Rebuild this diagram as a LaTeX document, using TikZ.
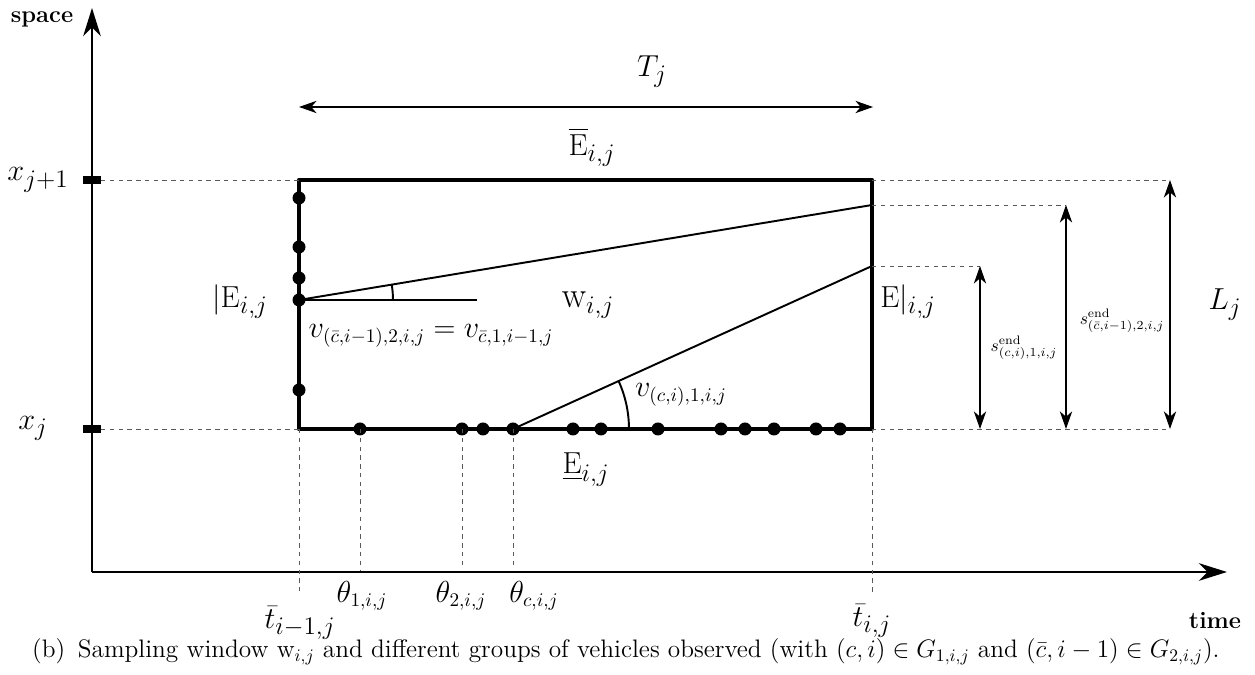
\documentclass[tikz,border=0pt]{standalone}
\usepackage{tikz}
\usetikzlibrary{arrows.meta}
\usepackage{amsmath, amsfonts}

\begin{document}
\begin{tikzpicture}[x=0.02cm, y=0.02cm,
    axis/.style = {line width=1.3pt, -{Stealth[length=16pt,width=10pt,inset=5pt]}},
    edgeline/.style = {line width=2.6pt, line join=round},
    traj/.style = {line width=1.1pt},
    guide/.style = {gray!70!black, line width=0.5pt, dash pattern=on 2.5pt off 2.5pt},
    dim/.style = {line width=0.7pt, {Stealth[length=10pt,width=7pt,inset=3pt]}-{Stealth[length=10pt,width=7pt,inset=3pt]}},
    veh/.style = {circle, fill, inner sep=0pt, minimum size=7.4pt},
    big/.style = {font=\fontsize{19}{22}\selectfont},
    mid/.style = {font=\fontsize{16}{19}\selectfont},
    word/.style = {font=\fontsize{13.5}{16}\selectfont\bfseries}]
    \useasboundingbox (0,0) rectangle (1255,675);

    % axes
    \coordinate (O) at (92,103);
    \coordinate (ytop) at (92,667);
    \coordinate (xend) at (1227,103);
    \draw[axis] (O) -- (ytop);
    \draw[axis] (O) -- (xend);
    \node[word] (space) at (42,656) {space};
    \node[word] (time) at (1215,54) {time};

    % window
    \coordinate (tl) at (299,495);
    \coordinate (tr) at (872,495);
    \coordinate (br) at (872,246);
    \coordinate (bl) at (299,246);
    \draw[edgeline] (tl) -- (tr) -- (br) -- (bl) -- cycle;

    % space marks
    \coordinate (xj1) at (92,495);
    \coordinate (xj) at (92,246);
    \draw[line width=4pt] ([xshift=-0.18cm]xj1) -- ([xshift=0.18cm]xj1);
    \draw[line width=4pt] ([xshift=-0.18cm]xj) -- ([xshift=0.18cm]xj);
    \draw[guide] ([xshift=0.18cm]xj1) -- (tl);
    \draw[guide] ([xshift=0.18cm]xj) -- (bl);
    \node[big] (lxj1) at (38,495) {$x_{j+1}$};
    \node[big] (lxj) at (33,247) {$x_j$};

    % vehicles entering
    \foreach \y in {477,428,397,375,285}
        \node[veh] (l\y) at (299,\y) {};
    \foreach \x in {360,462,483,513,573,601,658,721,745,774,816,840}
        \node[veh] (b\x) at (\x,246) {};

    % trajectories
    \coordinate (eA) at (872,470);
    \coordinate (eB) at (872,409);
    \coordinate (hA) at (477,375);
    \draw[traj] (l375.center) -- (eA);
    \draw[traj] (l375.center) -- (hA);
    \draw[traj] ([shift={(1.88cm,0)}]l375.center) arc (0:9.4:1.88cm);
    \draw[traj] (b513.center) -- (eB);
    \draw[traj] ([shift={(2.32cm,0)}]b513.center) arc (0:24.6:2.32cm);
    \node[mid] (vA) at (431,339) {$v_{(\bar{c},i-1),2,i,j} = v_{\bar{c},1,i-1,j}$};
    \node[mid] (vB) at (681,280) {$v_{(c,i),1,i,j}$};

    % lengths
    \coordinate (sB) at (980,409);
    \coordinate (sB0) at (980,246);
    \coordinate (sA) at (1066,470);
    \coordinate (sA0) at (1066,246);
    \coordinate (Lt) at (1170,495);
    \coordinate (Lb) at (1170,246);
    \draw[guide] (eB) -- (sB);
    \draw[guide] (eA) -- (sA);
    \draw[guide] (tr) -- (Lt);
    \draw[guide] (br) -- (Lb);
    \draw[dim] (sB) -- (sB0);
    \draw[dim] (sA) -- (sA0);
    \draw[dim] (Lt) -- (Lb);
    \node (lsB) at (1024,327) {$s^{\text{end}}_{(c,i),1,i,j}$};
    \node (lsA) at (1122,354) {$s^{\text{end}}_{(\bar{c},i-1),2,i,j}$};
    \node[big] (lL) at (1225,370) {$L_j$};

    % duration
    \coordinate (Ta) at (299,568);
    \coordinate (Tb) at (873,568);
    \draw[dim] (Ta) -- (Tb);
    \node[big] (lT) at (652,603) {$T_j$};

    % edges
    \node[big] (Etop) at (592,528) {$\overline{\mathrm{E}}_{i,j}$};
    \node[big] (Eleft) at (240,373) {$|\mathrm{E}_{i,j}$};
    \node[big] (Eright) at (908,373) {$\mathrm{E}|_{i,j}$};
    \node[big] (Ebot) at (586,205) {$\underline{\mathrm{E}}_{i,j}$};
    \node[font=\fontsize{20}{24}\selectfont] (win) at (588,370) {$\mathrm{w}_{i,j}$};

    % times
    \coordinate (t0) at (299,84);
    \coordinate (t1) at (872,80);
    \coordinate (th1) at (360,104);
    \coordinate (th2) at (462,108);
    \coordinate (thc) at (513,110);
    \draw[guide] (bl) -- (t0);
    \draw[guide] (br) -- (t1);
    \draw[guide] (b360.center) -- (th1);
    \draw[guide] (b462.center) -- (th2);
    \draw[guide] (b513.center) -- (thc);
    \node[mid] (lth1) at (362,79) {$\theta_{1,i,j}$};
    \node[mid] (lth2) at (461,79) {$\theta_{2,i,j}$};
    \node[mid] (lthc) at (534,79) {$\theta_{c,i,j}$};
    \node[big] (lt0) at (300,52) {$\bar{t}_{i-1,j}$};
    \node[big] (lt1) at (872,54) {$\bar{t}_{i,j}$};

    \node[anchor=west, font=\fontsize{14.4}{17}\selectfont] (cap) at (26,23) {(b)\enspace Sampling window $\mathrm{w}_{i,j}$ and different groups of vehicles observed (with $(c,i) \in G_{1,i,j}$ and $(\bar{c},i-1) \in G_{2,i,j}$).};
\end{tikzpicture}
\end{document}
